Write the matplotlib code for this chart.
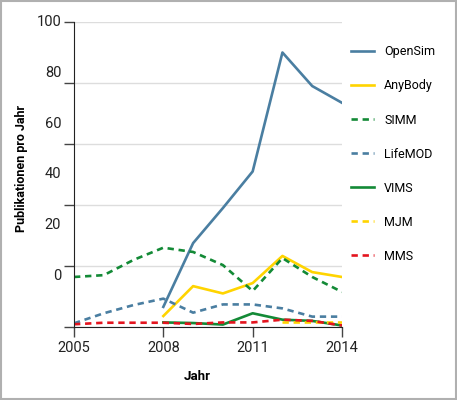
import matplotlib
matplotlib.use('Agg')
import matplotlib.pyplot as plt
import numpy as np

plt.rcParams['font.family'] = ['Roboto', 'DejaVu Sans']

years = [2005, 2006, 2007, 2008, 2009, 2010, 2011, 2012, 2013, 2014]
opensim_years = [2008, 2009, 2010, 2011, 2012, 2013, 2014]
opensim = [6.6, 27.5, 39, 51, 90, 79, 73.5]
anybody_years = [2008, 2009, 2010, 2011, 2012, 2013, 2014]
anybody = [3.6, 13.4, 11, 14.4, 23.3, 18, 16.4]
simm = [16.4, 17, 22, 26, 24.6, 20.3, 11.8, 22.6, 16.4, 11.5]
lifemod = [1.2, 4.5, 7.2, 9.3, 4.7, 7.4, 7.4, 6.1, 3.4, 3.4]
vims_years = [2008, 2009, 2010, 2011, 2012, 2013, 2014]
vims = [1.5, 1.3, 0.8, 4.5, 2.4, 2.0, 0.5]
mjm_years = [2012, 2013, 2014]
mjm = [1.5, 1.5, 1.5]
mms = [0.9, 1.4, 1.4, 1.4, 1.0, 1.5, 1.5, 2.4, 2.0, 0.5]

ytick_vals = [0, 20, 40, 60, 80, 100]
ylabel_text = ['100', '80', '60', '40', '20', '0']
xtick_vals = [2005, 2008, 2011, 2014]

blue = '#4a7ea1'
yellow = '#ffd400'
green = '#138a36'
red = '#e3141e'

fig = plt.figure(figsize=(4.57, 4.0), dpi=100)
ax = fig.add_axes([74 / 457, 1 - 327 / 400, (342 - 74) / 457, (327 - 22) / 400])

lw = 1.9
dash = (0, (2.4, 1.8))
ax.plot(opensim_years, opensim, color=blue, lw=lw, label='OpenSim')
ax.plot(anybody_years, anybody, color=yellow, lw=lw, label='AnyBody')
ax.plot(years, simm, color=green, lw=lw, ls=dash, label='SIMM')
ax.plot(years, lifemod, color=blue, lw=lw, ls=dash, label='LifeMOD')
ax.plot(vims_years, vims, color=green, lw=lw, label='VIMS')
ax.plot(mjm_years, mjm, color=yellow, lw=lw, ls=dash, label='MJM')
ax.plot(years, mms, color=red, lw=lw, ls=dash, label='MMS')

ax.set_xlim(2005, 2014)
ax.set_ylim(0, 100)
ax.set_yticks(ytick_vals)
ax.set_yticklabels([''] * len(ytick_vals))
ax.set_xticks(xtick_vals)
ax.set_xticklabels([str(x) for x in xtick_vals], fontsize=10.5, color='#222222')
ax.yaxis.grid(True, color='#dddddd', lw=1)
ax.set_axisbelow(True)
for s in ['top', 'right']:
    ax.spines[s].set_visible(False)
ax.spines['left'].set_color('#222222')
ax.spines['bottom'].set_color('#222222')
ax.tick_params(axis='both', length=7, width=1, color='#444444', pad=3)

# the tick labels on the y axis sit on their own spacing in the reference
label_pos = np.linspace(100, 0, 7)[:6]
for val, txt in zip(label_pos, ylabel_text):
    ax.text(-0.048, val, txt, transform=ax.get_yaxis_transform(),
            ha='right', va='center', fontsize=10.5, color='#222222')

fig.text(22 / 457, 1 - 169 / 400, 'Publikationen pro Jahr', rotation=90,
         ha='center', va='center', fontsize=9, fontweight='bold')
fig.text(197 / 457, 1 - 377 / 400, 'Jahr', ha='center', va='center',
         fontsize=9.5, fontweight='bold')

leg = ax.legend(loc='upper left', bbox_to_anchor=(351 / 457, 1 - 45.5 / 400),
                bbox_transform=fig.transFigure, frameon=False, fontsize=9,
                borderpad=0, borderaxespad=0,
                handlelength=1.85, handletextpad=0.8, labelspacing=1.68)

fig.patches.append(plt.Rectangle((0.002, 0.003), 0.995, 0.994, transform=fig.transFigure,
                                 fill=False, edgecolor='#b0b0b0', lw=1.5))

fig.savefig('out.png', dpi=100)
